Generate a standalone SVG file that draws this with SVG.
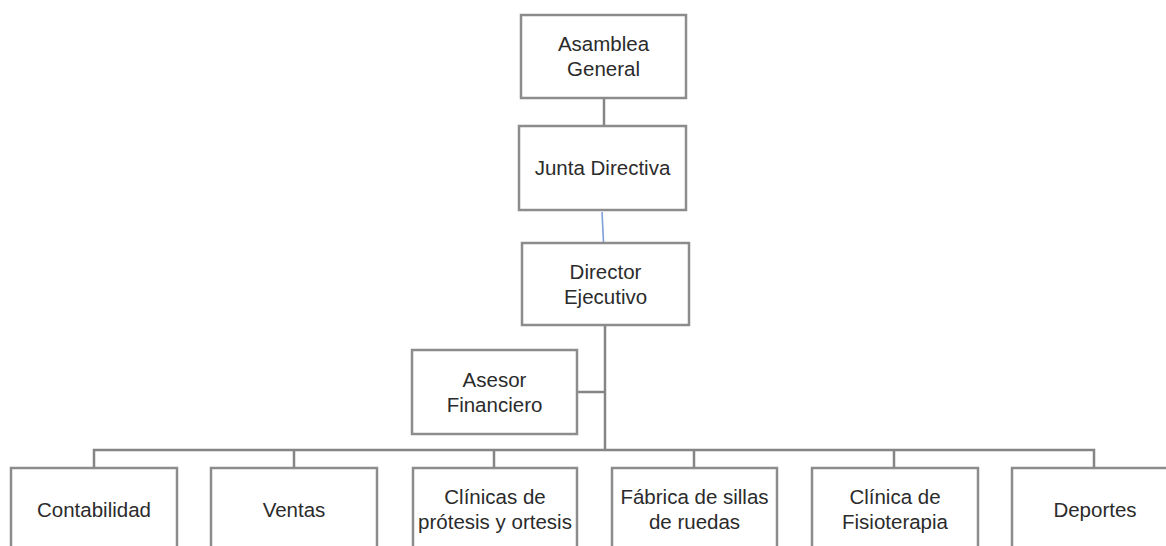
<svg xmlns="http://www.w3.org/2000/svg" width="1166" height="546" viewBox="0 0 1166 546">
<style>
.box{fill:#ffffff;stroke:#8c8c8c;stroke-width:2.5}
.ln{fill:none;stroke:#858585;stroke-width:2.5}
.t{font-family:"Liberation Sans",Arial,sans-serif;font-size:20.5px;fill:#2b2b2b;text-anchor:middle}
</style>
<rect width="1166" height="546" fill="#ffffff"/>
<g id="connectors">
<line class="ln" x1="604" y1="98" x2="604" y2="126"/>
<line x1="602" y1="212" x2="603.5" y2="242" stroke="#7f9fd8" stroke-width="1.6"/>
<line class="ln" x1="605" y1="325" x2="605" y2="451"/>
<line class="ln" x1="577" y1="392" x2="605" y2="392"/>
<polyline class="ln" points="94,468 94,450 1094,450 1094,468"/>
<line class="ln" x1="294" y1="450" x2="294" y2="468"/>
<line class="ln" x1="494" y1="450" x2="494" y2="468"/>
<line class="ln" x1="694" y1="450" x2="694" y2="468"/>
<line class="ln" x1="894" y1="450" x2="894" y2="468"/>
</g>
<g id="asamblea">
<rect class="box" x="521" y="15" width="165" height="83"/>
<text class="t" x="603.5" y="51">Asamblea</text>
<text class="t" x="603.5" y="76">General</text>
</g>
<g id="junta">
<rect class="box" x="519" y="126" width="167" height="84"/>
<text class="t" x="602.5" y="175">Junta Directiva</text>
</g>
<g id="director">
<rect class="box" x="522" y="243" width="167" height="82"/>
<text class="t" x="605.5" y="279">Director</text>
<text class="t" x="605.5" y="304">Ejecutivo</text>
</g>
<g id="asesor">
<rect class="box" x="412" y="350" width="165" height="84"/>
<text class="t" x="494.5" y="387">Asesor</text>
<text class="t" x="494.5" y="412">Financiero</text>
</g>
<g id="contabilidad">
<rect class="box" x="11" y="468" width="166" height="100"/>
<text class="t" x="94" y="517">Contabilidad</text>
</g>
<g id="ventas">
<rect class="box" x="211" y="468" width="166" height="100"/>
<text class="t" x="294" y="517">Ventas</text>
</g>
<g id="clinicas">
<rect class="box" x="413" y="468" width="164" height="100"/>
<text class="t" x="495" y="504">Clínicas de</text>
<text class="t" x="495" y="529">prótesis y ortesis</text>
</g>
<g id="fabrica">
<rect class="box" x="612" y="468" width="165" height="100"/>
<text class="t" x="694.5" y="504">Fábrica de sillas</text>
<text class="t" x="694.5" y="529">de ruedas</text>
</g>
<g id="fisioterapia">
<rect class="box" x="812" y="468" width="166" height="100"/>
<text class="t" x="895" y="504">Clínica de</text>
<text class="t" x="895" y="529">Fisioterapia</text>
</g>
<g id="deportes">
<rect class="box" x="1012" y="468" width="166" height="100"/>
<text class="t" x="1095" y="517">Deportes</text>
</g>
</svg>
